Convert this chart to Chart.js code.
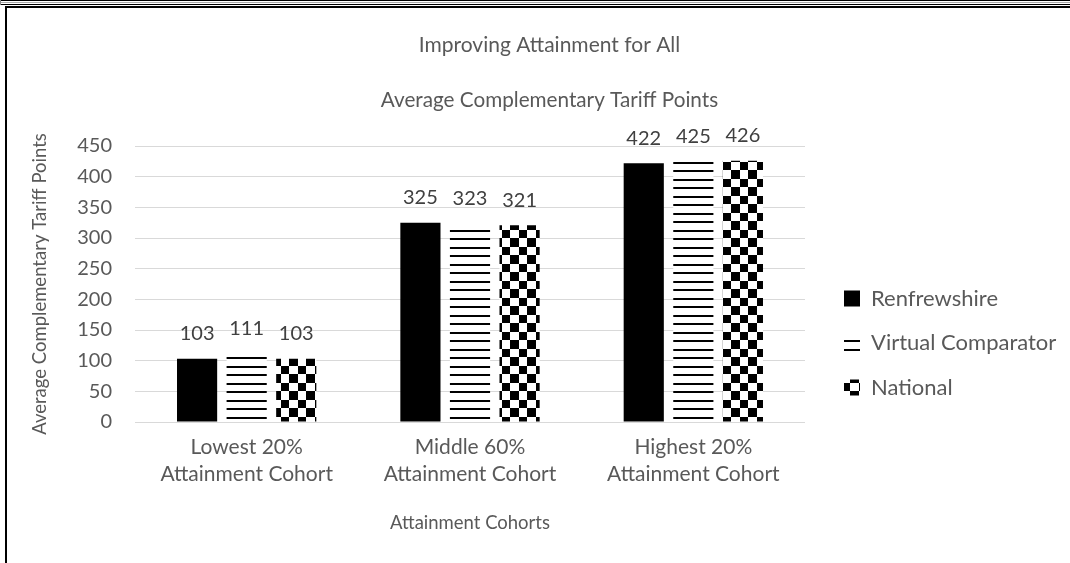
<!DOCTYPE html>
<html>
<head>
<meta charset="utf-8">
<script src="https://cdn.jsdelivr.net/npm/chart.js@4/dist/chart.umd.min.js"></script>
<style>
html,body{margin:0;padding:0;background:#fff;}
#wrap{position:relative;width:1070px;height:563px;overflow:hidden;background:#fff;}
#c{position:absolute;left:0;top:0;}
.ln{position:absolute;pointer-events:none;}
</style>
</head>
<body>
<div id="wrap">
<canvas id="c" width="1070" height="563"></canvas>
<div class="ln" style="left:0;top:0;width:1070px;height:1px;background:#000;"></div>
<div class="ln" style="left:0;top:2px;width:1070px;height:1px;background:#aaa;"></div>
<div class="ln" style="left:0;top:4px;width:1070px;height:1px;background:#000;"></div>
<div class="ln" style="left:0;top:0;width:1px;height:5px;background:#888;"></div>
<div class="ln" style="left:5px;top:6px;width:1065px;height:2px;background:#000;"></div>
<div class="ln" style="left:5px;top:6px;width:2px;height:557px;background:#000;"></div>
</div>
<script>
// ---- data ----
const categories = [['Lowest 20%', 'Attainment Cohort'], ['Middle 60%', 'Attainment Cohort'], ['Highest 20%', 'Attainment Cohort']];
const seriesNames = ['Renfrewshire', 'Virtual Comparator', 'National'];
const renfrewshire = [103, 325, 422];
const virtualComparator = [111, 323, 425];
const national = [103, 321, 426];
const yMin = 0, yMax = 450, yStep = 50;
const chartTitle = 'Improving Attainment for All';
const chartSubtitle = 'Average Complementary Tariff Points';
const yAxisTitle = 'Average Complementary Tariff Points';
const xAxisTitle = 'Attainment Cohorts';

// ---- patterns ----
const canvas = document.getElementById('c');
const mainCtx = canvas.getContext('2d');
function makeStripes() {
  const c = document.createElement('canvas'); c.width = 17; c.height = 17;
  const g = c.getContext('2d');
  g.fillStyle = '#fff'; g.fillRect(0, 0, 17, 17);
  g.fillStyle = '#000'; g.fillRect(0, 0, 17, 2); g.fillRect(0, 9, 17, 2);
  return mainCtx.createPattern(c, 'repeat');
}
function makeChecker() {
  const c = document.createElement('canvas'); c.width = 17; c.height = 17;
  const g = c.getContext('2d');
  g.fillStyle = '#fff'; g.fillRect(0, 0, 17, 17);
  g.fillStyle = '#000'; g.fillRect(0, 0, 9, 9); g.fillRect(9, 9, 8, 8);
  return mainCtx.createPattern(c, 'repeat');
}
const fills = ['#000000', makeStripes(), makeChecker()];
const seriesData = [renfrewshire, virtualComparator, national];

const FONT = 'Lato';
const TXT = '#595959';
const FS = 20;

const valueLabels = {
  id: 'valueLabels',
  afterDatasetsDraw(chart) {
    const ctx = chart.ctx;
    ctx.save();
    ctx.font = FS + 'px ' + FONT;
    ctx.fillStyle = '#404040';
    ctx.textAlign = 'center';
    ctx.textBaseline = 'middle';
    chart.data.datasets.forEach((ds, i) => {
      chart.getDatasetMeta(i).data.forEach((bar, j) => {
        ctx.fillText(String(ds.data[j]), bar.x, bar.y - 25);
      });
    });
    ctx.restore();
  }
};

const LEGEND_LEFT = 821.5;
const legendWidthFix = {
  id: 'legendWidthFix',
  beforeInit(chart) {
    const lg = chart.legend;
    const orig = lg.fit;
    lg.fit = function () {
      orig.call(this);
      this.width = 1070 - LEGEND_LEFT;
    };
  }
};

new Chart(canvas, {
  type: 'bar',
  data: {
    labels: categories,
    datasets: seriesNames.map((n, i) => ({
      label: n,
      data: seriesData[i],
      backgroundColor: fills[i],
      borderWidth: 0,
      categoryPercentage: 0.666,
      barPercentage: 0.81
    }))
  },
  plugins: [valueLabels, legendWidthFix],
  options: {
    responsive: false,
    animation: false,
    layout: { padding: { left: 29, right: 0, top: 0, bottom: 29 } },
    plugins: {
      title: {
        display: true, text: chartTitle, color: TXT,
        font: { family: FONT, size: 21, weight: 'normal', lineHeight: 1.2 },
        padding: { top: 33, bottom: 0 }
      },
      subtitle: {
        display: true, text: chartSubtitle, color: TXT,
        font: { family: FONT, size: 20.7, weight: 'normal', lineHeight: 1.2 },
        padding: { top: 30, bottom: 33 }
      },
      legend: {
        position: 'right',
        align: 'start',
        title: { display: true, text: ' ', font: { size: 1, lineHeight: 1 }, padding: { top: 264, bottom: 0 } },
        labels: {
          boxWidth: 16, boxHeight: 16, padding: 22.5, color: TXT,
          font: { family: FONT, size: 22 }
        }
      },
      tooltip: { enabled: false }
    },
    scales: {
      x: {
        grid: { display: false, drawTicks: false },
        border: { display: false },
        ticks: { color: TXT, font: { family: FONT, size: 21, lineHeight: 1.286 }, padding: 12, maxRotation: 0 },
        title: { display: true, text: xAxisTitle, color: TXT, font: { family: FONT, size: 18.5, lineHeight: 1.2 }, padding: { top: 22, bottom: 0 } },
        afterFit(s) { s.height = 563 - 29 - 422; }
      },
      y: {
        min: yMin, max: yMax,
        ticks: { stepSize: yStep, color: TXT, font: { family: FONT, size: FS }, padding: 23 },
        grid: { color: '#d9d9d9', drawTicks: false, lineWidth: 1 },
        border: { display: false },
        title: { display: true, text: yAxisTitle, color: TXT, font: { family: FONT, size: 18.5, lineHeight: 1.2 }, padding: { top: 0, bottom: 0 } },
        afterFit(s) { s.width = 135 - 29; }
      },
      yRightSpacer: {
        position: 'right', display: true,
        grid: { display: false }, border: { display: false },
        ticks: { display: false },
        afterFit(s) { s.width = LEGEND_LEFT - 805; }
      }
    }
  }
});
</script>
</body>
</html>
